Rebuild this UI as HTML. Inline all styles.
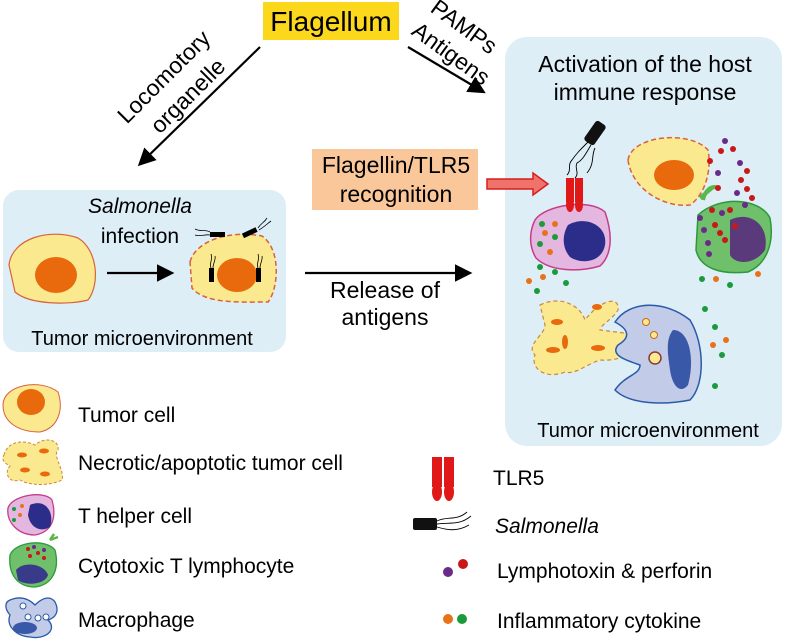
<!DOCTYPE html>
<html><head><meta charset="utf-8"><style>
body{margin:0;background:#fff}
svg{display:block;font-family:"Liberation Sans",Arial,sans-serif}
</style></head><body>
<svg width="790" height="642" viewBox="0 0 790 642">
<defs>
<marker id="ah" markerWidth="8" markerHeight="8" refX="6" refY="4" orient="auto"><path d="M0,0 L8,4 L0,8 z" fill="#000"/></marker>
</defs>
<rect x="3" y="190" width="283" height="162" rx="16" fill="#ddeef6"/>
<rect x="505" y="37" width="277" height="409" rx="22" fill="#ddeef6"/>
<rect x="263" y="2" width="136" height="38" fill="#fcd81c"/>
<text x="331" y="31" font-size="28" text-anchor="middle">Flagellum</text>
<line x1="260" y1="47" x2="141" y2="163" stroke="#000" stroke-width="2.2" marker-end="url(#ah)"/>
<line x1="408" y1="47" x2="482" y2="91" stroke="#000" stroke-width="2.2" marker-end="url(#ah)"/>
<text font-size="23" text-anchor="middle" dominant-baseline="middle" transform="translate(165,78) rotate(-45)">Locomotory</text>
<text font-size="23" text-anchor="middle" dominant-baseline="middle" transform="translate(189,97) rotate(-45)">organelle</text>
<text font-size="23" text-anchor="middle" dominant-baseline="middle" transform="translate(463,28) rotate(36)">PAMPs</text>
<text font-size="23" text-anchor="middle" dominant-baseline="middle" transform="translate(450,55) rotate(36)">Antigens</text>
<rect x="312" y="149" width="166" height="61" fill="#fac79a"/>
<text x="396" y="173" font-size="23" text-anchor="middle">Flagellin/TLR5</text>
<text x="396" y="202" font-size="23" text-anchor="middle">recognition</text>
<path d="M487,179 h46 v-6 l15,11 -15,11 v-6 h-46 z" fill="#f0726a" stroke="#d32020" stroke-width="1.5"/>
<line x1="305" y1="273" x2="468" y2="273" stroke="#000" stroke-width="2.2" marker-end="url(#ah)"/>
<text x="385" y="298" font-size="23" text-anchor="middle">Release of</text>
<text x="385" y="325" font-size="23" text-anchor="middle">antigens</text>
<path d="M9,265 C12,238 50,228 78,238 C98,250 100,285 88,300 C70,305 30,305 15,292 Z" fill="#fbe98f" stroke="#d9623a" stroke-width="1.2"/>
<ellipse cx="56" cy="275" rx="21" ry="18" fill="#e86a0c"/>
<text x="140" y="213" font-size="21" font-style="italic" text-anchor="middle">Salmonella</text>
<text x="140" y="243" font-size="21" text-anchor="middle">infection</text>
<line x1="107" y1="273" x2="170" y2="273" stroke="#000" stroke-width="2.2" marker-end="url(#ah)"/>
<path d="M190,262 C196,240 230,230 262,236 C282,250 278,290 268,302 C240,302 205,304 192,288 Z" fill="#fbe98f" stroke="#d9623a" stroke-width="1.5" stroke-dasharray="5,3"/>
<ellipse cx="237" cy="275" rx="20" ry="17" fill="#e86a0c"/>
<rect x="209" y="268" width="5" height="14" fill="#000"/><rect x="256" y="268" width="5" height="14" fill="#000"/>
<path d="M211,268 c-2,-5 2,-8 0,-14 M213,268 c0,-5 3,-8 2,-12 M258,268 c-2,-5 2,-8 0,-14 M260,268 c0,-5 3,-8 2,-12" stroke="#000" fill="none" stroke-width="0.8"/>
<rect x="210" y="232" width="15" height="5" fill="#000"/><rect x="242" y="230" width="15" height="5" fill="#000" transform="rotate(-25 250 232)"/>
<path d="M210,232 c-5,-3 -10,0 -15,-3 M210,235 c-5,-1 -10,2 -15,0 M258,228 c3,-5 6,-5 9,-10 M259,230 c5,-3 8,-6 12,-9" stroke="#000" fill="none" stroke-width="0.8"/>
<text x="142" y="345" font-size="20" text-anchor="middle">Tumor microenvironment</text>
<text x="645" y="72" font-size="23" text-anchor="middle">Activation of the host</text>
<text x="645" y="100" font-size="23" text-anchor="middle">immune response</text>
<rect x="589" y="121" width="12" height="24" rx="3" fill="#111" transform="rotate(35 595 133)"/>
<path d="M588,142 c-8,8 -12,12 -16,18 c-5,5 0,10 -5,15 M591,145 c-5,8 -8,15 -14,18 c-3,5 3,10 -2,15 M595,148 c-4,8 0,15 -8,25" stroke="#000" fill="none" stroke-width="0.9"/>
<path d="M535,220 C545,205 590,198 605,212 C613,235 612,255 600,266 C580,272 550,272 536,258 C528,245 530,230 535,220Z" fill="#e3b7e0" stroke="#c73c8a" stroke-width="1.5"/>
<path d="M568,225 C585,215 608,225 605,245 C602,262 582,265 570,257 C562,248 562,235 568,225Z" fill="#2c2c8a"/>
<rect x="566" y="178" width="8" height="24" fill="#e01818"/><rect x="575" y="178" width="8" height="24" fill="#e01818"/>
<ellipse cx="570" cy="205" rx="4" ry="7" fill="#e01818"/><ellipse cx="579" cy="205" rx="4" ry="7" fill="#e01818"/>
<path d="M628,160 C632,135 690,130 708,150 C712,170 705,195 690,205 C665,208 632,190 628,160Z" fill="#fbe98f" stroke="#d9623a" stroke-width="1.5" stroke-dasharray="5,3"/>
<ellipse cx="674" cy="175" rx="20" ry="15" fill="#e86a0c"/>
<path d="M700,198 L712,188 M703,200 C705,190 712,185 718,188" stroke="#5ab84a" stroke-width="4" fill="none"/>
<path d="M698,215 C720,195 760,198 770,218 C775,245 765,265 748,272 C720,275 700,268 696,250 Z" fill="#6fbf6b" stroke="#2a9a3a" stroke-width="1.5"/>
<path d="M730,220 C750,210 770,225 765,250 C755,265 735,265 730,255 Z" fill="#5a3a7a"/>
<g>
<circle cx="542" cy="224" r="3" fill="#1a9a3a"/><circle cx="555" cy="224" r="3" fill="#e8721a"/><circle cx="545" cy="233" r="3" fill="#e8721a"/><circle cx="555" cy="237" r="3" fill="#1a9a3a"/><circle cx="540" cy="244" r="3" fill="#1a9a3a"/><circle cx="550" cy="252" r="3" fill="#e8721a"/>
<circle cx="540" cy="267" r="3" fill="#1a9a3a"/><circle cx="543" cy="277" r="3" fill="#e8721a"/><circle cx="555" cy="272" r="3" fill="#1a9a3a"/><circle cx="529" cy="281" r="3" fill="#e8721a"/><circle cx="566" cy="283" r="3" fill="#1a9a3a"/><circle cx="537" cy="291" r="3" fill="#1a9a3a"/>
<circle cx="702" cy="279" r="3" fill="#1a9a3a"/><circle cx="716" cy="279" r="3" fill="#e8721a"/><circle cx="730" cy="285" r="3" fill="#1a9a3a"/><circle cx="758" cy="274" r="3" fill="#e8721a"/>
<circle cx="705" cy="309" r="3" fill="#1a9a3a"/><circle cx="715" cy="327" r="3" fill="#1a9a3a"/><circle cx="726" cy="340" r="3" fill="#e8721a"/><circle cx="713" cy="345" r="3" fill="#e8721a"/><circle cx="722" cy="355" r="3" fill="#1a9a3a"/><circle cx="715" cy="386" r="3" fill="#1a9a3a"/>
<circle cx="725" cy="141" r="3" fill="#6a2a8a"/><circle cx="721" cy="151" r="3" fill="#c81818"/><circle cx="733" cy="149" r="3" fill="#c81818"/><circle cx="740" cy="163" r="3" fill="#6a2a8a"/><circle cx="747" cy="171" r="3" fill="#c81818"/><circle cx="741" cy="180" r="3" fill="#c81818"/><circle cx="747" cy="189" r="3" fill="#c81818"/><circle cx="737" cy="193" r="3" fill="#6a2a8a"/><circle cx="718" cy="173" r="3" fill="#6a2a8a"/><circle cx="710" cy="161" r="3" fill="#c81818"/>
<circle cx="718" cy="188" r="3" fill="#c81818"/><circle cx="712" cy="210" r="3" fill="#c81818"/><circle cx="722" cy="213" r="3" fill="#6a2a8a"/><circle cx="730" cy="210" r="3" fill="#c81818"/><circle cx="715" cy="225" r="3" fill="#c81818"/><circle cx="704" cy="230" r="3" fill="#6a2a8a"/><circle cx="720" cy="233" r="3" fill="#c81818"/><circle cx="708" cy="243" r="3" fill="#6a2a8a"/><circle cx="725" cy="240" r="3" fill="#c81818"/><circle cx="700" cy="218" r="3" fill="#6a2a8a"/><circle cx="745" cy="205" r="3" fill="#6a2a8a"/><circle cx="752" cy="198" r="3" fill="#c81818"/><circle cx="735" cy="226" r="3" fill="#c81818"/><circle cx="709" cy="254" r="3" fill="#6a2a8a"/>
</g>
<path d="M540,305 C560,295 580,305 585,320 C600,300 620,295 618,310 C612,320 600,325 600,330 L640,335 C645,350 620,362 600,360 C585,365 575,375 565,372 C545,380 530,368 535,355 C525,345 545,335 545,325 Z" fill="#fbe98f" stroke="#c98a3a" stroke-width="1.2" stroke-dasharray="4,3"/>
<ellipse cx="557" cy="322" rx="6" ry="3" fill="#e86a0c"/><ellipse cx="565" cy="342" rx="3" ry="7" fill="#e86a0c"/><ellipse cx="553" cy="350" rx="7" ry="3" fill="#e86a0c"/><ellipse cx="598" cy="348" rx="7" ry="3" fill="#e86a0c"/><ellipse cx="597" cy="307" rx="5" ry="3" fill="#e86a0c"/>
<path d="M615,322 C630,300 665,300 690,320 C705,345 705,385 690,400 C665,405 630,405 615,390 C625,375 640,375 640,365 C625,360 610,355 618,345 C630,338 630,330 615,322Z" fill="#c2cbe8" stroke="#2a5aa8" stroke-width="1.5"/>
<path d="M673,330 C690,330 695,360 688,385 C680,395 672,385 670,370 C668,355 665,340 673,330Z" fill="#3a58a8"/>
<circle cx="646" cy="322" r="3.5" fill="#fbe98f" stroke="#c86a1a"/><circle cx="654" cy="335" r="3.5" fill="#fbe98f" stroke="#c86a1a"/><circle cx="655" cy="358" r="6" fill="#fbe98f" stroke="#8a3a3a" stroke-width="1.5"/>
<text x="648" y="437" font-size="20" text-anchor="middle">Tumor microenvironment</text>
<g font-size="21">
<path d="M3,405 C3,385 40,378 58,392 C64,410 58,428 40,432 C18,432 3,422 3,405Z" fill="#fbe98f" stroke="#d9623a"/><ellipse cx="31" cy="402" rx="14" ry="13" fill="#e86a0c"/>
<text x="78" y="422">Tumor cell</text>
<path d="M4,455 C8,440 25,440 35,445 C45,436 60,440 58,450 C52,456 65,470 62,480 C50,486 30,486 20,480 C8,484 4,472 10,466 C2,462 2,458 4,455Z" fill="#fbe98f" stroke="#c98a3a" stroke-dasharray="3,2"/><ellipse cx="22" cy="455" rx="5" ry="2.5" fill="#e86a0c"/><ellipse cx="44" cy="451" rx="5" ry="2.5" fill="#e86a0c"/><ellipse cx="25" cy="470" rx="5" ry="2.5" fill="#e86a0c"/><ellipse cx="45" cy="474" rx="5" ry="2.5" fill="#e86a0c"/>
<text x="78" y="470">Necrotic/apoptotic tumor cell</text>
<path d="M8,508 C12,495 45,490 52,500 C57,518 52,532 35,535 C18,535 6,522 8,508Z" fill="#e3b7e0" stroke="#c73c8a" stroke-width="1.3"/><path d="M30,505 C45,498 55,512 50,527 C40,533 30,527 28,515Z" fill="#2c2c8a"/><circle cx="14" cy="509" r="2" fill="#1a9a3a"/><circle cx="20" cy="515" r="2" fill="#e8721a"/><circle cx="14" cy="520" r="2" fill="#1a9a3a"/><circle cx="22" cy="506" r="2" fill="#e8721a"/>
<text x="78" y="523">T helper cell</text>
<path d="M50,540 l4,-6 M50,540 l8,-3" stroke="#5ab84a" stroke-width="2.5"/>
<path d="M10,555 C15,542 45,538 55,550 C60,570 52,585 35,587 C18,587 8,575 10,555Z" fill="#6fbf6b" stroke="#2a9a3a" stroke-width="1.3"/><path d="M16,570 C25,560 45,565 48,575 C45,585 25,586 18,580Z" fill="#3a3a8a"/><circle cx="28" cy="549" r="2" fill="#c81818"/><circle cx="34" cy="547" r="2" fill="#6a2a8a"/><circle cx="38" cy="553" r="2" fill="#c81818"/><circle cx="44" cy="550" r="2" fill="#6a2a8a"/><circle cx="30" cy="556" r="2" fill="#c81818"/><circle cx="44" cy="558" r="2" fill="#c81818"/>
<text x="78" y="573">Cytotoxic T lymphocyte</text>
<path d="M10,600 C22,595 30,600 35,605 C42,598 50,595 55,602 C60,612 55,618 48,620 C58,630 45,640 30,637 C15,636 6,625 10,615 C4,608 5,602 10,600Z" fill="#c2cbe8" stroke="#2a5aa8" stroke-width="1.3"/><ellipse cx="25" cy="628" rx="12" ry="6" fill="#3a58a8"/><circle cx="23" cy="606" r="3" fill="#fff" stroke="#2a5aa8"/><circle cx="28" cy="617" r="3" fill="#fff" stroke="#2a5aa8"/><circle cx="38" cy="618" r="3" fill="#fff" stroke="#2a5aa8"/><circle cx="46" cy="617" r="3" fill="#fff" stroke="#2a5aa8"/>
<text x="78" y="627">Macrophage</text>
</g>
<g font-size="21">
<rect x="432" y="457" width="10" height="30" fill="#e01818"/><rect x="444" y="457" width="10" height="30" fill="#e01818"/><ellipse cx="437" cy="492" rx="5" ry="9" fill="#e01818"/><ellipse cx="449" cy="492" rx="5" ry="9" fill="#e01818"/>
<text x="493" y="485">TLR5</text>
<rect x="413" y="518" width="24" height="12" rx="2" fill="#111"/><path d="M437,521 c10,-5 20,0 30,-9 M437,524 c12,-2 22,2 34,-8 M437,527 c10,3 20,5 32,-2" stroke="#000" fill="none" stroke-width="0.9"/>
<text x="495" y="533" font-style="italic">Salmonella</text>
<circle cx="448" cy="572" r="5" fill="#6a2a8a"/><circle cx="463" cy="564" r="5" fill="#c81818"/>
<text x="497" y="578">Lymphotoxin &amp; perforin</text>
<circle cx="448" cy="619" r="5" fill="#e8721a"/><circle cx="462" cy="619" r="5" fill="#1a9a3a"/>
<text x="497" y="628">Inflammatory cytokine</text>
</g>
</svg>
</body></html>
